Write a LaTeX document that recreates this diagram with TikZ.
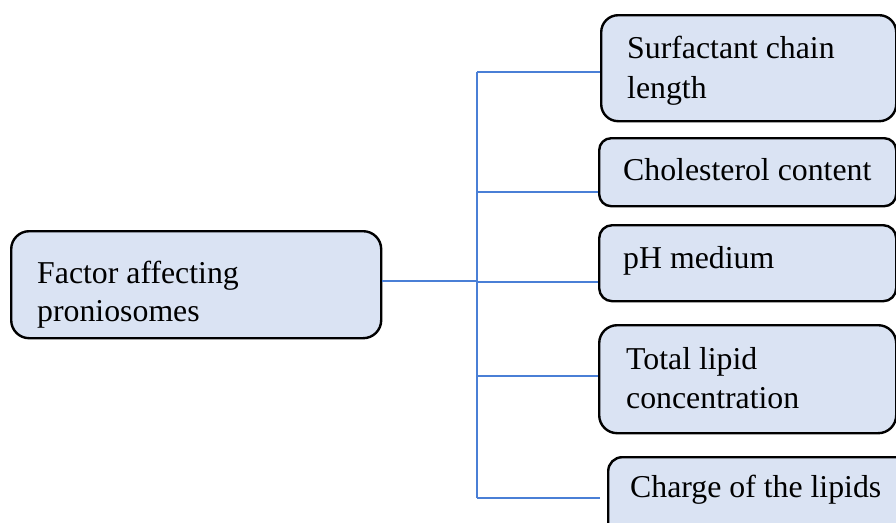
\documentclass[tikz,border=0pt]{standalone}
\usepackage{fontspec}
\setmainfont{Liberation Serif}
\newfontfamily\tnr{Liberation Serif}
\definecolor{boxfill}{HTML}{DAE3F3}
\definecolor{linkblue}{HTML}{4A7FD6}
\begin{document}
\begin{tikzpicture}[x=1pt,y=-1pt,
  box/.style={draw=black, line width=2.4pt, fill=boxfill, inner sep=0pt, anchor=north west},
  lbl/.style={anchor=base west, inner sep=0pt, font=\tnr\fontsize{31.8}{40}\selectfont},
  link/.style={draw=linkblue, line width=1.3pt}]
\useasboundingbox (0,0) rectangle (896,522);
% boxes
\node[box, rounded corners=18pt, minimum width=370pt, minimum height=107pt] (L) at (10,230) {};
\node[box, rounded corners=17pt, minimum width=295pt, minimum height=106pt] (b1) at (600,14) {};
\node[box, rounded corners=12pt, minimum width=297pt, minimum height=68pt] (b2) at (598,137) {};
\node[box, rounded corners=13pt, minimum width=297pt, minimum height=76pt] (b3) at (598,224) {};
\node[box, rounded corners=18pt, minimum width=297pt, minimum height=108pt] (b4) at (598,324) {};
\node[box, rounded corners=14pt, minimum width=310pt, minimum height=90pt] (b5) at (607,456) {};
% texts
\node[lbl] (tLa) at (37,283) {Factor affecting};
\node[lbl] (tLb) at (37,321) {proniosomes};
\node[lbl] (t1a) at (627,58) {Surfactant chain};
\node[lbl] (t1b) at (627,98) {length};
\node[lbl] (t2) at (623,180) {Cholesterol content};
\node[lbl] (t3) at (623,268) {pH medium};
\node[lbl] (t4a) at (626,369) {Total lipid};
\node[lbl] (t4b) at (626,408) {concentration};
\node[lbl] (t5) at (630,497) {Charge of the lipids};
% connector coordinates
\coordinate (j0) at (476,281);
\coordinate (j1) at (477,72);
\coordinate (j2) at (477,192);
\coordinate (j3) at (477,282);
\coordinate (j4) at (477,376);
\coordinate (j5) at (477,498);
\coordinate (e5) at (600,498);
% connectors
\draw[link] (L.east |- j0) -- (j0);
\draw[link] (j1) -- (j5);
\draw[link] (j1) -- (b1.west |- j1);
\draw[link] (j2) -- (b2.west |- j2);
\draw[link] (j3) -- (b3.west |- j3);
\draw[link] (j4) -- (b4.west |- j4);
\draw[link] (j5) -- (e5);
\end{tikzpicture}
\end{document}
